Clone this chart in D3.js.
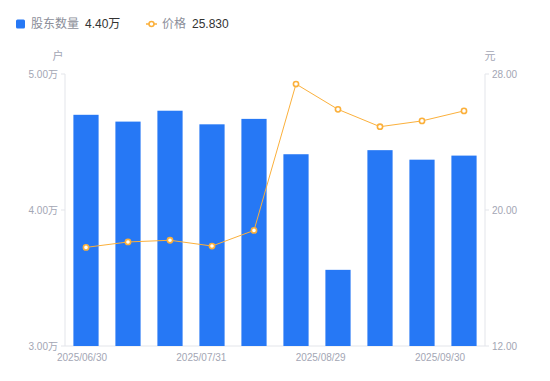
<!DOCTYPE html>
<html>
<head>
<meta charset="utf-8">
<script src="https://cdn.jsdelivr.net/npm/d3@7"></script>
<style>
  body { margin: 0; background: #fff; }
  svg text { font-family: "Liberation Sans", "Noto Sans CJK SC", sans-serif; }
</style>
</head>
<body>
<svg id="chart" width="550" height="381"></svg>
<script>
const dates = ["2025/06/30", "2025/07/15", "2025/07/31", "2025/08/15", "2025/08/20",
  "2025/08/25", "2025/08/29", "2025/09/10", "2025/09/20", "2025/09/30"];
const holders = [4.70, 4.65, 4.73, 4.63, 4.67, 4.41, 3.56, 4.44, 4.37, 4.40];
const prices = [17.80, 18.12, 18.22, 17.88, 18.80, 27.41, 25.92, 24.90, 25.24, 25.83];
const xLabels = ["2025/06/30", "2025/07/31", "2025/08/29", "2025/09/30"];
const leftTicks = [3, 4, 5];
const rightTicks = [12, 20, 28];

const width = 550, height = 381;
const margin = {top: 74, right: 65, bottom: 35, left: 65};
const blue = "#2678f5", orange = "#fbb03b", grey = "#a3a6b4", axisGrey = "#e3e5ea";

const svg = d3.select("#chart");

const x = d3.scaleBand()
  .domain(dates)
  .range([margin.left, width - margin.right])
  .paddingInner(0.4)
  .paddingOuter(0.2);

const yL = d3.scaleLinear().domain([3, 5]).range([height - margin.bottom, margin.top]);
const yR = d3.scaleLinear().domain([12, 28]).range([height - margin.bottom, margin.top]);

// axis lines
const x0 = margin.left, x1 = width - margin.right, yb = height - margin.bottom;
svg.append("line").attr("x1", x0).attr("x2", x0).attr("y1", margin.top).attr("y2", yb)
  .attr("stroke", axisGrey);
svg.append("line").attr("x1", x1).attr("x2", x1).attr("y1", margin.top).attr("y2", yb)
  .attr("stroke", axisGrey);
svg.append("line").attr("x1", x0).attr("x2", x1).attr("y1", yb).attr("y2", yb)
  .attr("stroke", axisGrey);

// left ticks
const lt = svg.append("g").selectAll("g").data(leftTicks).enter().append("g")
  .attr("transform", d => `translate(${x0},${yL(d)})`);
lt.append("line").attr("x1", -4).attr("x2", 0).attr("stroke", axisGrey);
lt.append("text").attr("x", -7).attr("dy", "0.35em").attr("text-anchor", "end")
  .attr("font-size", 10).attr("fill", grey).text(d => d.toFixed(2) + "万");

// right ticks
const rt = svg.append("g").selectAll("g").data(rightTicks).enter().append("g")
  .attr("transform", d => `translate(${x1},${yR(d)})`);
rt.append("line").attr("x1", 0).attr("x2", 4).attr("stroke", axisGrey);
rt.append("text").attr("x", 7).attr("dy", "0.35em").attr("text-anchor", "start")
  .attr("font-size", 10).attr("fill", grey).text(d => d.toFixed(2));

// unit labels
svg.append("text").attr("x", x0 - 7).attr("y", 60).attr("text-anchor", "middle")
  .attr("font-size", 11).attr("fill", grey).text("户");
svg.append("text").attr("x", x1 + 5).attr("y", 60).attr("text-anchor", "middle")
  .attr("font-size", 11).attr("fill", grey).text("元");

// x labels
const xl = d3.scalePoint().domain(xLabels).range([x0 + 17, x1 - 45]);
svg.append("g").selectAll("text").data(xLabels).enter().append("text")
  .attr("x", d => xl(d)).attr("y", yb + 15).attr("text-anchor", "middle")
  .attr("font-size", 10).attr("fill", grey).text(d => d);

// bars
svg.append("g").selectAll("rect").data(holders).enter().append("rect")
  .attr("x", (d, i) => x(dates[i]))
  .attr("y", d => yL(d))
  .attr("width", x.bandwidth())
  .attr("height", d => yb - yL(d))
  .attr("fill", blue);

// price line
const line = d3.line()
  .x((d, i) => x(dates[i]) + x.bandwidth() / 2)
  .y(d => yR(d));
svg.append("path").datum(prices).attr("d", line)
  .attr("fill", "none").attr("stroke", orange).attr("stroke-width", 1);
svg.append("g").selectAll("circle").data(prices).enter().append("circle")
  .attr("cx", (d, i) => x(dates[i]) + x.bandwidth() / 2)
  .attr("cy", d => yR(d))
  .attr("r", 2.6)
  .attr("fill", "#fff").attr("stroke", orange).attr("stroke-width", 1.6);

// legend
const lg = svg.append("g").attr("transform", "translate(16,24)");
lg.append("rect").attr("x", 0).attr("y", -4.5).attr("width", 9).attr("height", 9)
  .attr("rx", 1.5).attr("fill", blue);
lg.append("text").attr("x", 15).attr("dy", "0.35em").attr("font-size", 12)
  .attr("fill", "#8b8e99").text("股东数量");
lg.append("text").attr("x", 69).attr("dy", "0.35em").attr("font-size", 12)
  .attr("fill", "#333").text(holders[holders.length - 1].toFixed(2) + "万");
lg.append("line").attr("x1", 130).attr("x2", 141).attr("stroke", orange).attr("stroke-width", 1.5);
lg.append("circle").attr("cx", 135.5).attr("r", 2.5).attr("fill", "#fff")
  .attr("stroke", orange).attr("stroke-width", 1.5);
lg.append("text").attr("x", 146).attr("dy", "0.35em").attr("font-size", 12)
  .attr("fill", "#8b8e99").text("价格");
lg.append("text").attr("x", 176).attr("dy", "0.35em").attr("font-size", 12)
  .attr("fill", "#333").text(prices[prices.length - 1].toFixed(3));
</script>
</body>
</html>
